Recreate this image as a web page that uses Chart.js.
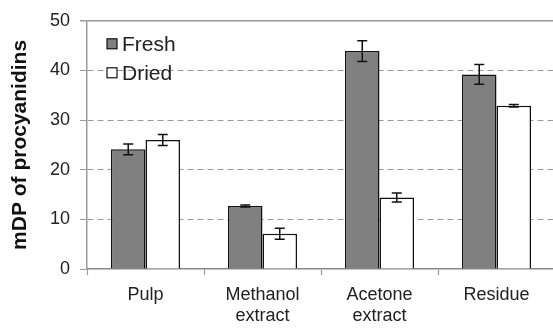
<!DOCTYPE html>
<html>
<head>
<meta charset="utf-8">
<script src="https://cdn.jsdelivr.net/npm/chart.js@4.4.1/dist/chart.umd.min.js"></script>
<style>
  html, body { margin: 0; padding: 0; background: #fff; overflow: hidden; }
  #wrap { width: 558px; height: 329px; }
</style>
</head>
<body>
<div id="wrap"><canvas id="chart" width="558" height="329"></canvas></div>
<script>
const categories = ['Pulp', ['Methanol', 'extract'], ['Acetone', 'extract'], 'Residue'];
const freshValues = [24.1, 12.7, 43.9, 39.2];
const freshErrors = [1.1, 0.2, 2.1, 2.0];
const driedValues = [26.0, 7.1, 14.4, 32.9];
const driedErrors = [1.1, 1.1, 0.9, 0.25];
const yTicks = [0, 10, 20, 30, 40, 50];

const fontFamily = '"Liberation Sans", Arial, sans-serif';

// error bars on top of each bar
const errorBars = {
  id: 'errorBars',
  afterDatasetsDraw(chart) {
    const ctx = chart.ctx;
    const yScale = chart.scales.y;
    ctx.save();
    ctx.strokeStyle = '#111';
    ctx.lineWidth = 1.5;
    chart.data.datasets.forEach((ds, di) => {
      const meta = chart.getDatasetMeta(di);
      meta.data.forEach((bar, i) => {
        const v = ds.data[i];
        const e = ds.errors[i];
        const x = bar.x;
        const yTop = yScale.getPixelForValue(v + e);
        const yBot = yScale.getPixelForValue(v - e);
        ctx.beginPath();
        ctx.moveTo(x, yTop);
        ctx.lineTo(x, yBot);
        ctx.moveTo(x - 5, yTop);
        ctx.lineTo(x + 5, yTop);
        ctx.moveTo(x - 5, yBot);
        ctx.lineTo(x + 5, yBot);
        ctx.stroke();
      });
    });
    ctx.restore();
  }
};

// legend inside the plot, top left
const innerLegend = {
  id: 'innerLegend',
  afterDraw(chart) {
    const ctx = chart.ctx;
    const area = chart.chartArea;
    ctx.save();
    ctx.font = '21px ' + fontFamily;
    ctx.textBaseline = 'middle';
    chart.data.datasets.forEach((ds, i) => {
      const bx = area.left + 20;
      const cy = area.top + 23 + i * 29;
      ctx.fillStyle = ds.backgroundColor;
      ctx.fillRect(bx, cy - 5, 10, 10);
      ctx.strokeStyle = '#111';
      ctx.lineWidth = 1.2;
      ctx.strokeRect(bx, cy - 5, 10, 10);
      ctx.fillStyle = '#222';
      ctx.fillText(ds.label, bx + 15, cy + 1);
    });
    ctx.restore();
  }
};

new Chart(document.getElementById('chart'), {
  type: 'bar',
  data: {
    labels: categories,
    datasets: [
      {
        label: 'Fresh',
        data: freshValues,
        errors: freshErrors,
        backgroundColor: '#808080',
        borderColor: '#111',
        borderWidth: 1.5,
      },
      {
        label: 'Dried',
        data: driedValues,
        errors: driedErrors,
        backgroundColor: '#ffffff',
        borderColor: '#111',
        borderWidth: 1.5,
      },
    ],
  },
  options: {
    responsive: false,
    animation: false,
    devicePixelRatio: 1,
    layout: { padding: { top: 19, right: 3, left: 0, bottom: 0 } },
    datasets: { bar: { categoryPercentage: 0.59, barPercentage: 1.0 } },
    plugins: { legend: { display: false }, tooltip: { enabled: false } },
    scales: {
      x: {
        grid: {
          drawOnChartArea: false,
          drawTicks: true,
          tickLength: 6,
          tickColor: '#999',
          tickWidth: 1.2,
        },
        border: { color: '#888', width: 1.5 },
        ticks: {
          color: '#222',
          padding: 10,
          maxRotation: 0,
          font: { family: fontFamily, size: 18, lineHeight: 1.15 },
        },
        afterFit(scale) { scale.height = 60; },
      },
      y: {
        min: 0,
        max: 50,
        afterBuildTicks(scale) { scale.ticks = yTicks.map(v => ({ value: v })); },
        grid: {
          color: (c) => c.tick && c.tick.value === 0 ? 'rgba(0,0,0,0)' : '#9a9a9a',
          lineWidth: (c) => c.tick && c.tick.value === 50 ? 1.5 : 1,
          tickLength: 7,
          tickColor: '#999',
        },
        border: {
          color: '#999',
          width: 1.5,
          dash: (c) => c.tick && c.tick.value === 50 ? [] : [6, 4],
        },
        ticks: {
          color: '#222',
          padding: 10,
          font: { family: fontFamily, size: 18 },
        },
        title: {
          display: true,
          text: 'mDP of procyanidins',
          color: '#111',
          padding: { top: 8, bottom: 0 },
          font: { family: fontFamily, size: 21, weight: 'bold' },
        },
        afterFit(scale) { scale.width = 87; },
      },
    },
  },
  plugins: [errorBars, innerLegend],
});
</script>
</body>
</html>
